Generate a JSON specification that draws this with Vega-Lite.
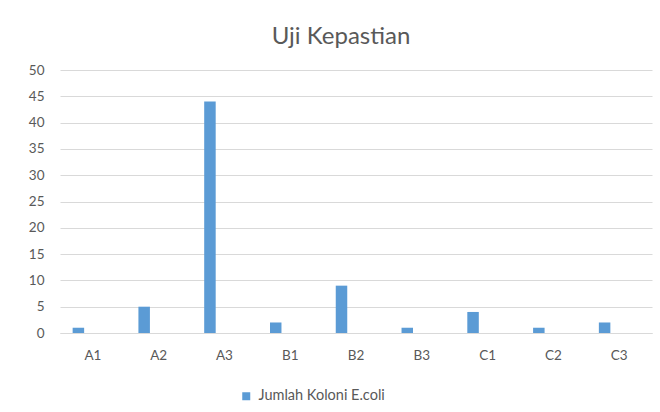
{
  "$schema": "https://vega.github.io/schema/vega-lite/v6.json",
  "width": 592,
  "height": 263,
  "autosize": {"type": "none"},
  "padding": {"left": 60, "top": 70, "right": 8, "bottom": 79},
  "background": "white",
  "title": {
    "text": "Uji Kepastian",
    "font": "Lato",
    "fontSize": 24,
    "fontWeight": "normal",
    "color": "#595959",
    "anchor": "middle",
    "dx": -15,
    "offset": 14
  },
  "data": {
    "values": [
      {"kode": "A1", "jumlah": 1, "seri": "Jumlah Koloni E.coli"},
      {"kode": "A2", "jumlah": 5, "seri": "Jumlah Koloni E.coli"},
      {"kode": "A3", "jumlah": 44, "seri": "Jumlah Koloni E.coli"},
      {"kode": "B1", "jumlah": 2, "seri": "Jumlah Koloni E.coli"},
      {"kode": "B2", "jumlah": 9, "seri": "Jumlah Koloni E.coli"},
      {"kode": "B3", "jumlah": 1, "seri": "Jumlah Koloni E.coli"},
      {"kode": "C1", "jumlah": 4, "seri": "Jumlah Koloni E.coli"},
      {"kode": "C2", "jumlah": 1, "seri": "Jumlah Koloni E.coli"},
      {"kode": "C3", "jumlah": 2, "seri": "Jumlah Koloni E.coli"}
    ]
  },
  "mark": {"type": "bar", "width": 11.5, "xOffset": -14.5},
  "encoding": {
    "x": {
      "field": "kode",
      "type": "nominal",
      "sort": null,
      "scale": {"paddingInner": 0, "paddingOuter": 0},
      "axis": {
        "title": null,
        "labelAngle": 0,
        "ticks": false,
        "domainColor": "#d9d9d9",
        "labelPadding": 15,
        "labelFont": "Lato",
        "labelFontSize": 13.5,
        "labelColor": "#595959"
      }
    },
    "y": {
      "field": "jumlah",
      "type": "quantitative",
      "scale": {"domain": [0, 50], "nice": false},
      "axis": {
        "title": null,
        "values": [0, 5, 10, 15, 20, 25, 30, 35, 40, 45, 50],
        "domain": false,
        "ticks": false,
        "labelPadding": 16,
        "labelFont": "Lato",
        "labelFontSize": 13.5,
        "labelColor": "#595959",
        "gridColor": "#d9d9d9",
        "gridWidth": 1
      }
    },
    "color": {
      "field": "seri",
      "type": "nominal",
      "scale": {"range": ["#5B9BD5"]},
      "legend": {
        "title": null,
        "orient": "none",
        "legendX": 179,
        "legendY": 319,
        "symbolType": "square",
        "symbolSize": 64,
        "symbolStrokeWidth": 0,
        "labelFont": "Lato",
        "labelFontSize": 14.5,
        "labelColor": "#595959",
        "labelOffset": 5
      }
    }
  },
  "config": {
    "view": {"stroke": null}
  }
}
